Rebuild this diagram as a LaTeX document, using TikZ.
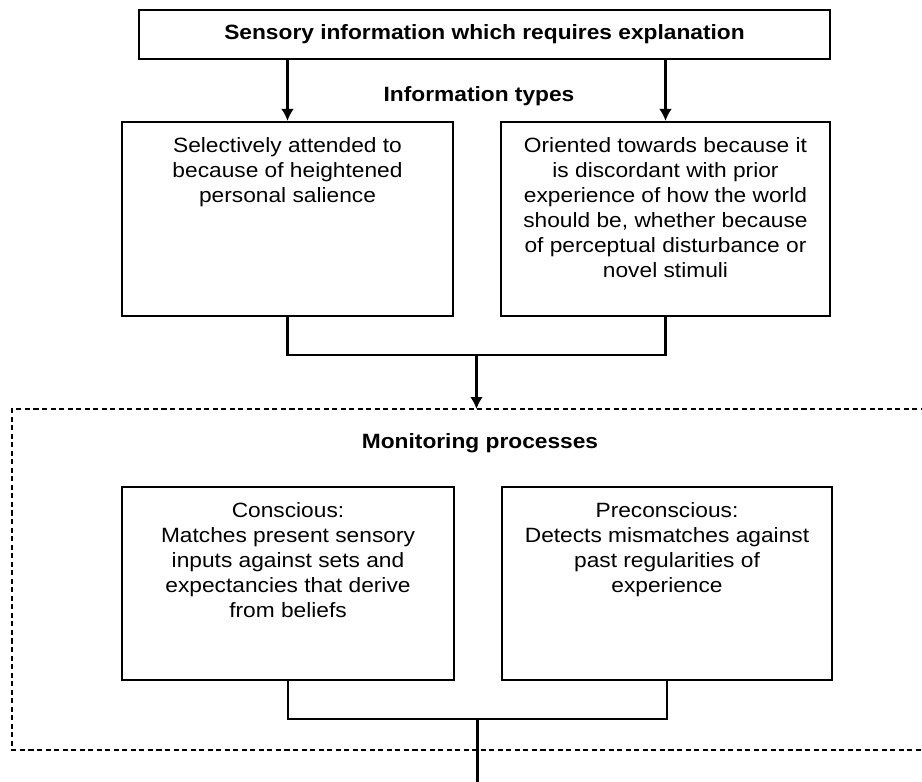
\documentclass[tikz,border=0pt]{standalone}
\usepackage{fontspec}
\setmainfont{Liberation Sans}[FakeStretch=1.1]
\usetikzlibrary{arrows.meta,positioning}
\tikzstyle{box}=[draw,line width=1.6pt,inner sep=0pt]
\tikzstyle{txt}=[align=center,inner sep=0pt,font=\fontsize{15.5}{18.75}\selectfont]
\tikzstyle{head}=[inner sep=0pt,font=\fontsize{15.5}{18.75}\selectfont\bfseries]

\begin{document}
\begin{tikzpicture}[-,>={Latex[length=9pt,width=9.5pt]},x=0.75pt,y=-0.75pt,line width=1.6pt]
				\useasboundingbox (0,0) rectangle (922,782);

				\draw node[box,head,minimum width=518pt,minimum height=37pt] (sens) at (484.5,34.5) {Sensory information which requires explanation};
				\draw node[head] (types) at (479,96.5) {Information types};
				\draw node[box,minimum width=248pt,minimum height=145.5pt] (sel) at (287.5,219) {};
				\draw node[box,minimum width=247pt,minimum height=145.5pt] (ori) at (665.5,219) {};
				\draw node[txt,below=11.5pt of sel.north] (selt) {Selectively attended to\\because of heightened\\personal salience};
				\draw node[txt,below=11.5pt of ori.north] (orit) {Oriented towards because it\\is discordant with prior\\experience of how the world\\should be, whether because\\of perceptual disturbance or\\novel stimuli};
				\coordinate (j1) at (476.5,355);

				% monitoring frame
				\coordinate (montl) at (12,409);
				\coordinate (monbl) at (12,750);
				\coordinate (montop) at (476.5,409);
				\draw[dash pattern=on 3.8pt off 2.6pt,line width=1.4pt] (926,409) -- (montl) -- (monbl) -- (926,750);
				\draw node[head] (mon) at (480,443) {Monitoring processes};
				\draw node[box,minimum width=249pt,minimum height=145pt] (con) at (288,583.5) {};
				\draw node[box,minimum width=247.5pt,minimum height=145pt] (pre) at (667,583.5) {};
				\draw node[txt,below=11.5pt of con.north] (cont) {Conscious:\\Matches present sensory\\inputs against sets and\\expectancies that derive\\from beliefs};
				\draw node[txt,below=11.5pt of pre.north] (pret) {Preconscious:\\Detects mismatches against\\past regularities of\\experience};
				\coordinate (j2) at (477.5,719);
				\coordinate (out) at (477.5,790);

				\draw[->] (sel.north |- sens.south) -- (sel.north);
				\draw[->] (ori.north |- sens.south) -- (ori.north);
				\draw (sel.south) |- (j1) -| (ori.south);
				\draw[->] (j1) -- (montop);
				\draw (con.south) |- (j2) -| (pre.south);
				\draw (j2) -- (out);
\end{tikzpicture}
\end{document}
